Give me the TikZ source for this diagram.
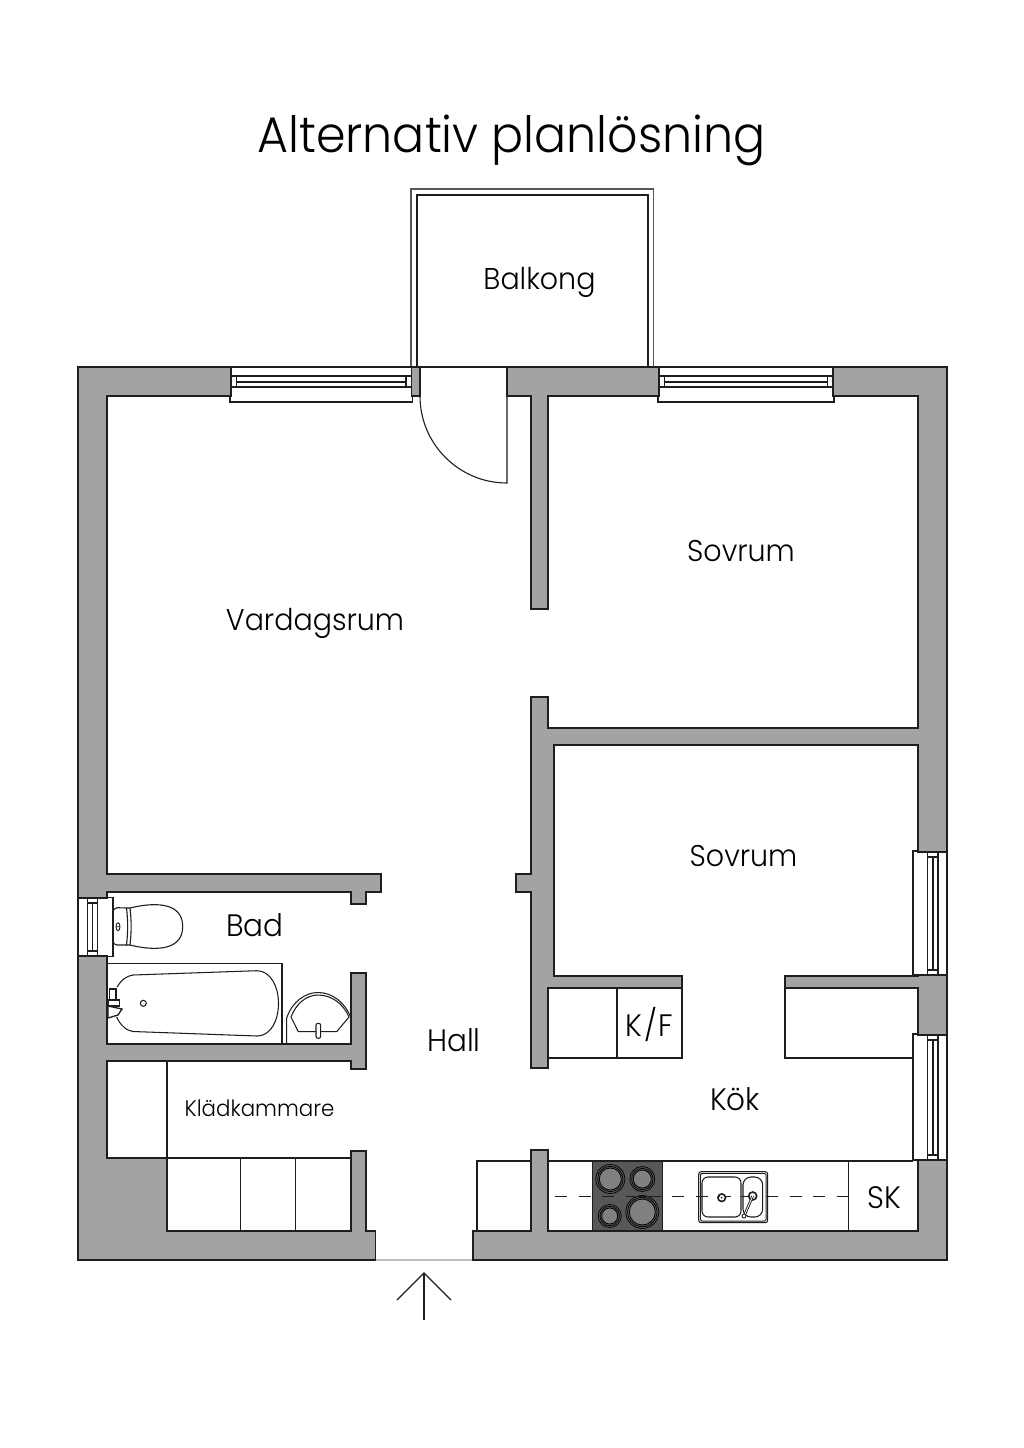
\documentclass[tikz,border=0pt]{standalone}
\usepackage{fontspec}
\setmainfont{Poppins Light}[FakeStretch=0.95]
\tikzset{
  x=1pt,y=-1pt,
  ln/.style={draw=ink,line width=1.3pt,line join=miter},
  thin ln/.style={draw=ink,line width=1.05pt},
  label/.style={inner sep=0pt,anchor=base,text=black,font=\fontsize{30}{32}\selectfont},
  short label/.style={label,font=\fontsize{31}{32}\selectfont},
}
\definecolor{ink}{HTML}{1E1E1E}
\definecolor{wall}{HTML}{A3A3A3}
\definecolor{hob}{HTML}{585858}
\definecolor{plate}{HTML}{808080}
\begin{document}
\begin{tikzpicture}
\useasboundingbox (0,0) rectangle (1024,1448);
\fill[white] (0,0) rectangle (1024,1448);
\node[inner sep=0pt,anchor=base,text=black,font=\fontsize{50}{54}\selectfont] (title) at (511.5,152) {Alternativ planlösning};
% balcony
\draw[ln,draw=ink!75,line width=1.1pt] (411,367) -- (411,189) -- (653.5,189) -- (653.5,367);
\draw[ln] (417,367) -- (417,195) -- (648,195) -- (648,367);
% walls
\filldraw[ln,fill=wall] (78,367) rectangle (947,1260);
\filldraw[ln,fill=white] (107,396) -- (231,396) -- (231,367) -- (411.5,367) -- (411.5,396) -- (420,396) -- (420,367) -- (507,367) -- (507,396) -- (531,396) -- (531,609) -- (548,609) -- (548,396) -- (659,396) -- (659,367) -- (833,367) -- (833,396) -- (918,396) -- (918,728) -- (548,728) -- (548,697) -- (531,697) -- (531,874) -- (516,874) -- (516,892) -- (531,892) -- (531,1068) -- (548,1068) -- (548,988) -- (682,988) -- (682,976) -- (554,976) -- (554,745) -- (918,745) -- (918,852) -- (947,852) -- (947,975) -- (918,975) -- (918,976) -- (785,976) -- (785,988) -- (918,988) -- (918,1035) -- (947,1035) -- (947,1160) -- (918,1160) -- (918,1231) -- (548,1231) -- (548,1150) -- (531,1150) -- (531,1231) -- (473,1231) -- (473,1260) -- (375.5,1260) -- (375.5,1231) -- (366,1231) -- (366,1151) -- (351,1151) -- (351,1231) -- (167,1231) -- (167,1158) -- (107,1158) -- (107,1061) -- (351,1061) -- (351,1069) -- (366,1069) -- (366,973) -- (351,973) -- (351,1044) -- (107,1044) -- (107,956) -- (78,956) -- (78,898) -- (107,898) -- (107,892) -- (351,892) -- (351,904) -- (366,904) -- (366,892) -- (381,892) -- (381,874) -- (107,874) -- cycle;
\draw[draw=wall!70,line width=1.3pt] (376.2,1260) -- (472.3,1260);
% door
\draw[ln,line width=1.1pt] (507,396) -- (507,483) arc[start angle=90,end angle=180,radius=87];
% top windows
\foreach \a/\b in {231/411.5,659/833}{
  \draw[ln] (\a-1,396) -- (\a-1,402) -- (\b+1,402) -- (\b+1,396);
  \draw[ln] (\a,376) -- (\b,376) (\a,387) -- (\b,387);
  \draw[thin ln] (\a+5.5,382) -- (\b-5.5,382) (\a+5.5,376) -- (\a+5.5,387) (\b-5.5,376) -- (\b-5.5,387);
}
% right windows
\foreach \a/\b in {852/975,1035/1160}{
  \draw[ln] (918,\a-1) -- (913,\a-1) -- (913,\b) -- (918,\b);
  \draw[ln] (927.7,\a) -- (927.7,\b) (938,\a) -- (938,\b);
  \draw[thin ln] (933,\a+5) -- (933,\b-5) (927.7,\a+5) -- (938,\a+5) (927.7,\b-5) -- (938,\b-5);
}
% left bath window
\draw[ln] (107,897.5) -- (113,897.5) -- (113,956.5) -- (107,956.5);
\draw[ln] (87.3,898) -- (87.3,956) (97.3,898) -- (97.3,956);
\draw[thin ln] (92.3,903) -- (92.3,951) (87.3,903) -- (97.3,903) (87.3,951) -- (97.3,951);
% bath
\draw[thin ln] (107,963.7) -- (282,963.7) -- (282,1044);
\draw[thin ln] (117,987) .. controls (122,979) and (127,976) .. (133,975) -- (257,970.7) .. controls (271,971) and (278.5,987) .. (278.5,1003.5) .. controls (278.5,1020) and (271,1036) .. (257,1036) -- (133,1031.5) .. controls (127,1031) and (120,1025) .. (116.7,1017);
\draw[thin ln] (143.3,1003.3) circle (3);
\filldraw[ln,fill=white] (109.5,989) rectangle (116,1000);
\filldraw[ln,fill=white] (108,1000) rectangle (119.5,1006);
\filldraw[ln,fill=white] (108,1006) -- (122,1009) -- (118,1015) -- (108,1018) -- cycle;
% toilet
\draw[ln,line width=1.1pt] (130,908) .. controls (150,903) and (182.7,900) .. (182.7,926.5) .. controls (182.7,953) and (150,950) .. (130,945);
\draw[ln,line width=1.1pt] (126.5,908) -- (130,908) .. controls (131.5,920) and (131.5,933) .. (130,945) -- (126.5,945) .. controls (128,933) and (128,920) .. (126.5,908);
\draw[ln,line width=1.1pt] (126.5,908) -- (117,907.7) .. controls (114,908) and (113,910) .. (113,914) -- (113,940) .. controls (113,943) and (114,945) .. (117,945) -- (126.5,945);
\draw[thin ln,line width=0.9pt] (118,926.7) ellipse (2 and 4) (116,926.7) -- (120,926.7);
% wash basin
\draw[thin ln] (286.7,1044) -- (286.7,1018) .. controls (292,1002) and (305,992.5) .. (318,992.5) .. controls (332,992.5) and (345,1002) .. (351,1018);
\draw[thin ln] (291,1017) .. controls (296,1004) and (306,995) .. (318,995) .. controls (331,995) and (343,1003) .. (349,1017) -- (336.7,1031.7) -- (298.3,1031.7) -- cycle;
\filldraw[thin ln,fill=white,rounded corners=2pt] (316,1023.3) rectangle (320.7,1038.3);
% closet
\draw[thin ln] (167,1061) -- (167,1158) -- (351,1158);
\draw[thin ln] (240.7,1158) -- (240.7,1231) (295.7,1158) -- (295.7,1231);
% cabinets
\draw[thin ln] (477,1231) -- (477,1161) -- (531,1161);
\draw[thin ln] (548,1161) -- (913,1161);
\draw[thin ln] (548.5,1058) -- (682,1058) -- (682,988) (617,988) -- (617,1058);
\draw[thin ln] (785,988) -- (785,1058) -- (913,1058);
\draw[thin ln] (848.3,1161) -- (848.3,1231);
% hob
\filldraw[thin ln,fill=hob] (592.5,1161) rectangle (662.7,1231);
\foreach \cx/\cy/\r in {610.3/1179/14.5,642.3/1179/12.5,609.7/1216/11.5,642.3/1212/16.5}{
  \filldraw[draw=black,line width=0.8pt,fill=plate] (\cx,\cy) circle (\r-3.5);
  \draw[draw=black,line width=0.7pt] (\cx,\cy) circle (\r) (\cx,\cy) circle (\r-1.8);
}
% sink
\draw[thin ln,rounded corners=2.5pt] (698.7,1171.7) rectangle (767.7,1222.7);
\draw[thin ln,line width=0.9pt,rounded corners=1.5pt] (700.3,1173.3) rectangle (766.1,1221.1);
\draw[thin ln,rounded corners=6pt] (702,1177) rectangle (741,1217);
\draw[thin ln,rounded corners=8pt] (743,1177) rectangle (762.7,1217);
\draw[draw=ink,line width=1.6pt] (721.7,1197.7) circle (3.8);
\fill[ink] (721.7,1197.7) circle (1);
\draw[draw=ink,line width=1.6pt] (752.7,1196) circle (4);
\draw[draw=ink,line width=2.6pt] (752.7,1196) -- (745,1214);
\draw[draw=white,line width=0.8pt] (752.7,1196) -- (745,1214);
\filldraw[draw=ink,line width=0.9pt,fill=white] (744,1216) circle (2);
% dashed service line
\draw[draw=ink,line width=0.9pt,dash pattern=on 12pt off 11.5pt] (555,1196) -- (626,1196);
\draw[draw=ink,line width=1pt] (626,1196) -- (661,1196);
\draw[draw=ink,line width=0.9pt,dash pattern=on 12pt off 11.5pt] (672,1196) -- (720,1196);
\draw[draw=ink,line width=0.9pt] (725,1196) -- (731,1196) (741,1196) -- (749,1196);
\draw[draw=ink,line width=0.9pt,dash pattern=on 12pt off 11.5pt] (766,1196) -- (848,1196);
% entry arrow
\coordinate (entryTip) at (424,1273);
\coordinate (entryTail) at (424,1320);
\coordinate (entryL) at (397,1300);
\coordinate (entryR) at (451,1300);
\draw[ln] (entryTail) -- (entryTip);
\draw[ln,line join=miter] (entryL) -- (entryTip) -- (entryR);
% labels
\node[label] (balkong) at (539.5,289) {Balkong};
\node[label] (sovA) at (741,561) {Sovrum};
\node[label] (vard) at (315,630) {Vardagsrum};
\node[label] (sovB) at (743.5,866) {Sovrum};
\node[short label] (bad) at (255,936) {Bad};
\node[short label] (hall) at (454,1051) {Hall};
\node[short label] (kf) at (649.5,1036.5) {K\kern1.5pt/\kern1.5ptF};
\node[short label] (kok) at (735,1110) {Kök};
\node[label,font=\fontsize{22.5}{24}\selectfont] (klad) at (259.5,1116.5) {Klädkammare};
\node[short label] (sk) at (884.5,1208) {SK};
\end{tikzpicture}
\end{document}
